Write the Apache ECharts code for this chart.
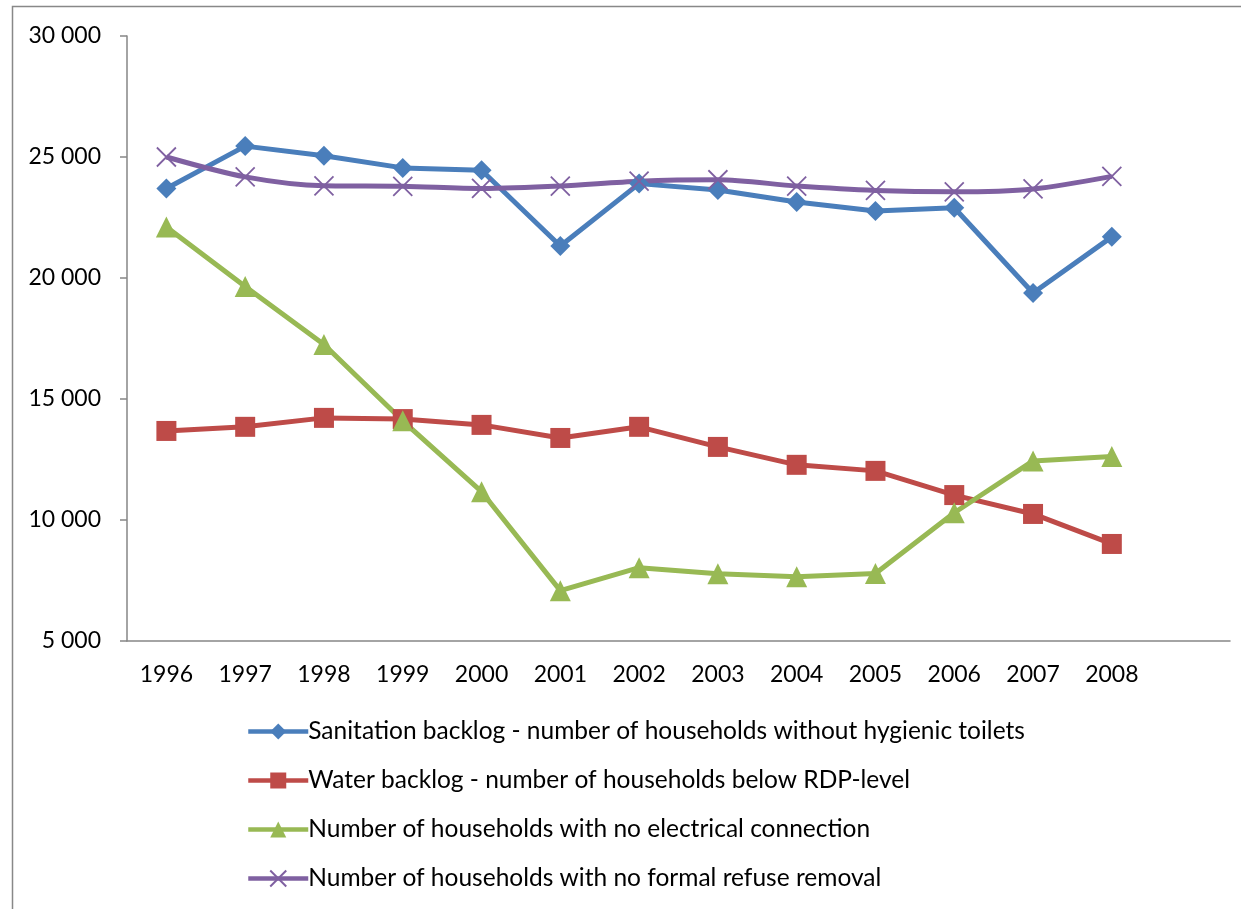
<!DOCTYPE html>
<html>
<head>
<meta charset="utf-8">
<script src="https://cdn.jsdelivr.net/npm/echarts@6/dist/echarts.min.js"></script>
<style>
  html, body { margin: 0; padding: 0; background: #fff; }
  #main { width: 1241px; height: 909px; }
</style>
</head>
<body>
<div id="main"></div>
<script>
// categories (last slot left empty, as in the original)
const years = ['1996', '1997', '1998', '1999', '2000', '2001', '2002', '2003', '2004', '2005', '2006', '2007', '2008', ''];

const sanitation = [23700, 25450, 25050, 24550, 24450, 21320, 23900, 23640, 23140, 22770, 22900, 19380, 21700];
const water = [13680, 13850, 14220, 14170, 13930, 13390, 13850, 13020, 12280, 12030, 11030, 10250, 9010];
const electricity = [22110, 19650, 17250, 14100, 11170, 7080, 8030, 7780, 7650, 7790, 10300, 12440, 12620];
const refuse = [25000, 24180, 23810, 23790, 23700, 23800, 24000, 24060, 23800, 23620, 23560, 23680, 24200];

const seriesNames = [
    'Sanitation backlog - number of households without hygienic toilets',
    'Water backlog - number of households below RDP-level',
    'Number of households with no electrical connection',
    'Number of households with no formal refuse removal'
];

const font = 'Lato, "Noto Sans", sans-serif';
const crossPath = 'path://M0,0L10,10M10,0L0,10';

let myChart = echarts.init(document.getElementById('main'));

let option = {
    animation: false,
    textStyle: { fontFamily: font },
    grid: { left: 127, top: 36, right: 11, bottom: 268 },
    graphic: [{
        type: 'rect',
        shape: { x: 12.5, y: 6.5, width: 1240, height: 920 },
        style: { fill: 'none', stroke: '#888', lineWidth: 1.5 },
        silent: true
    }],
    legend: {
        orient: 'vertical',
        left: 246,
        top: 719,
        padding: 0,
        itemWidth: 60,
        itemHeight: 20,
        itemGap: 24,
        lineStyle: { width: 4.5 },
        textStyle: { fontSize: 24.5, color: '#000', fontFamily: font, padding: [0, 0, 0, -5] },
        data: seriesNames
    },
    xAxis: {
        type: 'category',
        data: years,
        boundaryGap: true,
        axisLine: { lineStyle: { color: '#868686', width: 1.5 } },
        axisTick: { length: 7, lineStyle: { color: '#868686', width: 1.5 } },
        axisLabel: { fontSize: 23, color: '#000', margin: 22, fontFamily: font, interval: 0 }
    },
    yAxis: {
        type: 'value',
        min: 5000,
        max: 30000,
        interval: 5000,
        splitLine: { show: false },
        axisLine: { show: true, lineStyle: { color: '#868686', width: 1.5 } },
        axisTick: { show: true, length: 7, lineStyle: { color: '#868686', width: 1.5 } },
        axisLabel: {
            fontSize: 23, color: '#000', margin: 26, fontFamily: font,
            formatter: v => String(v).replace(/\B(?=(\d{3})+(?!\d))/g, ' ')
        }
    },
    series: [
        {
            name: seriesNames[0],
            type: 'line',
            data: sanitation,
            symbol: 'diamond',
            symbolSize: 20,
            color: '#4A7EBB',
            lineStyle: { width: 5 }
        },
        {
            name: seriesNames[1],
            type: 'line',
            data: water,
            symbol: 'rect',
            symbolSize: 20,
            color: '#BE4B48',
            lineStyle: { width: 5 }
        },
        {
            name: seriesNames[2],
            type: 'line',
            data: electricity,
            symbol: 'triangle',
            symbolSize: 21,
            color: '#98B954',
            lineStyle: { width: 5 }
        },
        {
            name: seriesNames[3],
            type: 'line',
            data: refuse,
            symbol: crossPath,
            symbolSize: 19,
            smooth: 0.3,
            color: '#7F60A1',
            itemStyle: { color: 'none', borderColor: '#7F60A1', borderWidth: 1.8 },
            lineStyle: { width: 5, color: '#7F60A1' }
        }
    ]
};
myChart.setOption(option);
</script>
</body>
</html>
